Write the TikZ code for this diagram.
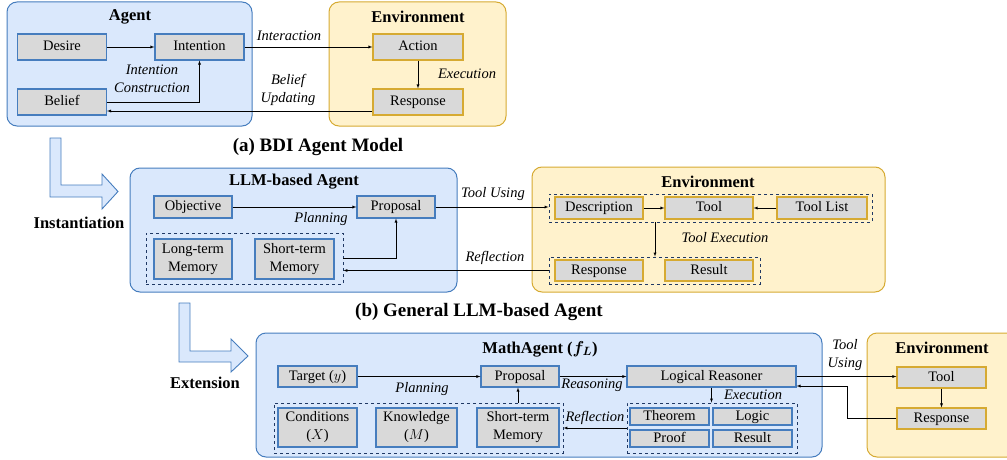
\documentclass[tikz,border=0pt]{standalone}
\usepackage{amsmath}
\usepackage{fontspec}
\setmainfont{Liberation Serif}
\usepackage{xcolor}
\definecolor{agentfill}{RGB}{218,232,252}
\definecolor{agentline}{RGB}{70,125,190}
\definecolor{envfill}{RGB}{255,242,204}
\definecolor{envline}{RGB}{214,170,50}
\definecolor{itemfill}{RGB}{217,217,217}
\definecolor{grpline}{RGB}{31,56,100}

\begin{document}
\begin{tikzpicture}[x=1pt, y=-1pt, >=latex,
    agentbox/.style={draw=agentline, fill=agentfill, line width=1pt, rounded corners=10pt, inner sep=0},
    envbox/.style={draw=envline, fill=envfill, line width=1pt, rounded corners=10pt, inner sep=0},
    itembase/.style={draw=agentline, fill=itemfill, line width=1.1pt, inner sep=0,
        font=\fontsize{14.5}{18}\selectfont},
    item/.style={itembase, text height=10pt, text depth=3pt},
    itemtwo/.style={itembase, align=center},
    envitem/.style={item, draw=envline},
    grp/.style={draw=grpline, dashed, line width=0.9pt, inner sep=0},
    ttl/.style={font=\fontsize{16.5}{18}\selectfont\bfseries},
    lbl/.style={font=\fontsize{14.5}{18}\selectfont\itshape, align=center},
    captionlbl/.style={font=\fontsize{19}{21}\selectfont\bfseries},
    bigarrow/.style={draw=agentline, fill=agentfill, line width=0.9pt}]
    \useasboundingbox (0,0) rectangle (1007,460);

    %% (a) BDI agent model
    \node[agentbox, minimum width=245, minimum height=124] (agentA) at (129.5,64) {};
    \node[ttl] (agentAt) at (130,17) {Agent};
    \node[item, minimum width=89, minimum height=26] (desire) at (62,47) {Desire};
    \node[item, minimum width=89, minimum height=26] (intention) at (199.5,47) {Intention};
    \node[item, minimum width=89, minimum height=26] (belief) at (62,102) {Belief};

    \node[envbox, minimum width=177, minimum height=124] (envA) at (417.5,64) {};
    \node[ttl] (envAt) at (418,17) {Environment};
    \node[envitem, minimum width=90, minimum height=26] (action) at (418,47) {Action};
    \node[envitem, minimum width=90, minimum height=26] (responseA) at (418,102) {Response};

    \draw[->] (desire) -- (intention);
    \draw[->] (belief.east) -| (intention.south);
    \draw[->] (intention) -- (action);
    \draw[->] (action) -- (responseA);
    \draw[->] ([yshift=-9pt]responseA.west) -- ([yshift=-9pt]belief.east);

    \node[lbl] (constr) at (152,78.5) {Intention\\Construction};
    \node[lbl] (interact) at (289,36) {Interaction};
    \node[lbl] (updating) at (288,89.5) {Belief\\Updating};
    \node[lbl] (execA) at (467,74) {Execution};

    \node[captionlbl] (capA) at (318,147) {(a) BDI Agent Model};

    %% (b) general LLM-based agent
    \draw[bigarrow] (50,138) -- (61,138) -- (61,185) -- (102,185) -- (102,174) -- (118,191.5)
        -- (102,209) -- (102,197) -- (50,197) -- cycle;
    \node[ttl] (inst) at (79,223) {Instantiation};

    \node[agentbox, minimum width=327, minimum height=124] (agentB) at (293.5,230) {};
    \node[ttl] (agentBt) at (294,182) {LLM-based Agent};
    \node[item, minimum width=78, minimum height=22] (objective) at (193,207) {Objective};
    \node[item, minimum width=78, minimum height=22] (proposalB) at (396,207) {Proposal};
    \node[grp, minimum width=197, minimum height=51] (memgrp) at (244.5,258.5) {};
    \node[itemtwo, minimum width=78, minimum height=40] (longmem) at (193,259) {Long-term\\Memory};
    \node[itemtwo, minimum width=79, minimum height=40] (shortmem) at (294.5,259) {Short-term\\Memory};

    \node[envbox, minimum width=353, minimum height=125] (envB) at (708.5,229.5) {};
    \node[ttl] (envBt) at (708,182) {Environment};
    \node[grp, minimum width=323, minimum height=28] (toolgrp) at (710.5,208) {};
    \node[envitem, minimum width=88, minimum height=22] (desc) at (599,208) {Description};
    \node[envitem, minimum width=88, minimum height=22] (toolB) at (709,208) {Tool};
    \node[envitem, minimum width=90, minimum height=22] (toollist) at (822,208) {Tool List};
    \node[grp, minimum width=211, minimum height=27] (respgrp) at (654.5,270.5) {};
    \node[envitem, minimum width=88, minimum height=21] (responseB) at (599,270.5) {Response};
    \node[envitem, minimum width=88, minimum height=21] (result) at (709,270.5) {Result};

    \draw[->] (objective) -- (proposalB);
    \draw[->] (memgrp.east) -| (proposalB.south);
    \draw[->] (proposalB.east) -- (proposalB.east -| toolgrp.west);
    \draw[->] (desc) -- (toolB);
    \draw[->] (toollist) -- (toolB);
    \coordinate (execB) at (655,0);
    \draw[->] (execB |- toolgrp.south) -- (execB |- respgrp.north);
    \draw[->] (respgrp.west) -- (respgrp.west -| memgrp.east);

    \node[lbl] (planB) at (321,219) {Planning};
    \node[lbl] (usingB) at (493,194) {Tool Using};
    \node[lbl] (reflB) at (495,258) {Reflection};
    \node[lbl] (toolexec) at (725,238) {Tool Execution};

    \node[captionlbl] (capB) at (479,312) {(b) General LLM-based Agent};

    %% (c) MathAgent
    \draw[bigarrow] (179,303) -- (190,303) -- (190,351) -- (231,351) -- (231,339) -- (248,356)
        -- (231,372) -- (231,362) -- (179,362) -- cycle;
    \node[ttl] (extn) at (205,383) {Extension};

    \node[agentbox, minimum width=566, minimum height=124] (agentC) at (539,395) {};
    \node[ttl] (agentCt) at (540,349) {MathAgent ($\boldsymbol{f_L}$)};
    \node[item, minimum width=79, minimum height=21] (target) at (317.5,376.5) {Target ($y$)};
    \node[item, minimum width=78, minimum height=21] (proposalC) at (520,376.5) {Proposal};
    \node[item, minimum width=169, minimum height=21] (reasoner) at (711.5,376.5) {Logical Reasoner};
    \node[grp, minimum width=289, minimum height=50] (memgrpC) at (418.5,428) {};
    \node[itemtwo, minimum width=79, minimum height=39] (cond) at (317.5,427.5) {Conditions\\($X$)};
    \node[itemtwo, minimum width=81, minimum height=39] (know) at (416.5,427.5) {Knowledge\\($M$)};
    \node[itemtwo, minimum width=82, minimum height=39] (shortmemC) at (518,427.5) {Short-term\\Memory};
    \node[grp, minimum width=170, minimum height=50] (execgrp) at (712,428) {};
    \node[item, minimum width=79, minimum height=17] (theorem) at (669.5,416.5) {Theorem};
    \node[item, minimum width=79, minimum height=17] (logic) at (752.5,416.5) {Logic};
    \node[item, minimum width=79, minimum height=17] (proof) at (669.5,438.5) {Proof};
    \node[item, minimum width=79, minimum height=17] (resultC) at (752.5,438.5) {Result};

    \node[envbox, minimum width=150, minimum height=124] (envC) at (942,395) {};
    \node[ttl] (envCt) at (942,348) {Environment};
    \node[envitem, minimum width=89, minimum height=21] (toolC) at (941.5,377.5) {Tool};
    \node[envitem, minimum width=89, minimum height=21] (responseC) at (941.5,418.5) {Response};

    \draw[->] (target) -- (proposalC);
    \draw[->] (shortmemC.north |- memgrpC.north) -- (shortmemC.north |- proposalC.south);
    \draw[->] (proposalC) -- (reasoner);
    \draw[->] (reasoner.south) -- (reasoner.south |- execgrp.north);
    \draw[->] (execgrp.west) -- (execgrp.west -| memgrpC.east);
    \draw[->] (reasoner.east) -- (reasoner.east -| toolC.west);
    \draw[->] (toolC) -- (responseC);
    \draw[->] (responseC.west) -| ([xshift=51pt, yshift=-9.5pt]reasoner.east)
        -- ([yshift=-9.5pt]reasoner.east);

    \node[lbl] (planC) at (422,389) {Planning};
    \node[lbl] (reasoning) at (592,385) {Reasoning};
    \node[lbl] (reflC) at (595,418) {Reflection};
    \node[lbl] (execC) at (753,395) {Execution};
    \node[lbl] (usingC) at (845,355.5) {Tool\\Using};

\end{tikzpicture}
\end{document}
